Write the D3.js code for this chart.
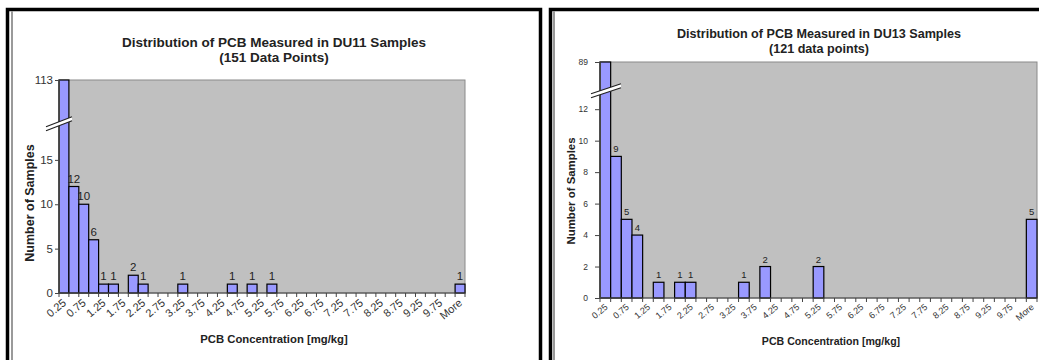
<!DOCTYPE html>
<html>
<head>
<meta charset="utf-8">
<script src="https://cdn.jsdelivr.net/npm/d3@7"></script>
<style>
  body { margin: 0; background: #fff; }
  svg { display: block; font-family: "Liberation Sans", Arial, sans-serif; }
</style>
</head>
<body>
<script>
// histogram bins (upper edge, mg/kg)
const bins = ["0.25","0.5","0.75","1","1.25","1.5","1.75","2","2.25","2.5","2.75","3","3.25","3.5","3.75","4",
  "4.25","4.5","4.75","5","5.25","5.5","5.75","6","6.25","6.5","6.75","7","7.25","7.5","7.75","8",
  "8.25","8.5","8.75","9","9.25","9.5","9.75","10","More"];

// labels printed under every other bin
const binLabels = ["0.25","","0.75","","1.25","","1.75","","2.25","","2.75","","3.25","","3.75","",
  "4.25","","4.75","","5.25","","5.75","","6.25","","6.75","","7.25","","7.75","",
  "8.25","","8.75","","9.25","","9.75","","More"];

// counts per bin
const du11 = [113,12,10,6,1,1,0,2,1,0,0,0,1,0,0,0,0,1,0,1,0,1,0,0,0,0,0,0,0,0,0,0,0,0,0,0,0,0,0,0,1];
const du13 = [89,9,5,4,0,1,0,1,1,0,0,0,0,1,0,2,0,0,0,0,2,0,0,0,0,0,0,0,0,0,0,0,0,0,0,0,0,0,0,0,5];

const du11Ticks = [0,5,10,15];
const du13Ticks = [0,2,4,6,8,10,12];

const width = 1039, height = 360;

let svg = d3.select("body").append("svg")
  .attr("width", width).attr("height", height);

// panel frames
svg.append("rect").attr("x", 7.5).attr("y", 9.5).attr("width", 533).attr("height", 380)
  .attr("fill", "none").attr("stroke", "#000").attr("stroke-width", 3.5);
svg.append("line").attr("x1", 12).attr("x2", 12).attr("y1", 11).attr("y2", 360)
  .attr("stroke", "#9a9a9a").attr("stroke-width", 2);
svg.append("rect").attr("x", 550.5).attr("y", 9.5).attr("width", 520).attr("height", 380)
  .attr("fill", "none").attr("stroke", "#000").attr("stroke-width", 3.5);
svg.append("line").attr("x1", 554).attr("x2", 554).attr("y1", 11).attr("y2", 360)
  .attr("stroke", "#9a9a9a").attr("stroke-width", 2);

function drawChart(c) {
  let g = svg.append("g");

  let x = d3.scaleBand().domain(bins).range([c.left, c.right]).padding(0);
  let y = d3.scaleLinear().domain([0, c.max]).range([c.bottom, c.top]);

  // plot area
  g.append("rect")
    .attr("x", c.left).attr("y", c.top)
    .attr("width", c.right - c.left).attr("height", c.bottom - c.top)
    .attr("fill", "#c0c0c0").attr("stroke", "#8a8a8a").attr("stroke-width", 1);

  let data = bins.map((b, i) => ({ bin: b, v: c.values[i] })).filter(d => d.v > 0);

  g.append("g").selectAll("rect")
    .data(data)
    .join("rect")
    .attr("x", d => x(d.bin))
    .attr("y", d => y(Math.min(d.v, c.max)))
    .attr("width", x.bandwidth())
    .attr("height", d => c.bottom - y(Math.min(d.v, c.max)))
    .attr("fill", "#9999ff")
    .attr("stroke", "#000")
    .attr("stroke-width", 1.2);

  // value labels (the clipped first bar gets its value on the axis instead)
  g.append("g").selectAll("text")
    .data(data.filter(d => d.v <= c.max))
    .join("text")
    .attr("x", d => x(d.bin) + x.bandwidth() / 2)
    .attr("y", d => y(d.v) - 4)
    .attr("text-anchor", "middle")
    .attr("font-size", c.labelSize)
    .attr("fill", "#222")
    .text(d => d.v);

  // y axis
  let ya = g.append("g")
    .attr("transform", `translate(${c.left},0)`)
    .call(d3.axisLeft(y).tickValues(c.ticks).tickSize(c.yTick).tickPadding(c.yPad));
  ya.select(".domain").attr("stroke", "#444");
  ya.selectAll(".tick line").attr("stroke", "#444");
  ya.selectAll("text").attr("font-size", c.tickSize).attr("fill", "#333").attr("font-family", null);

  g.append("text")
    .attr("x", c.left - c.yTick - c.yPad).attr("y", y(c.max)).attr("dy", "0.32em")
    .attr("text-anchor", "end").attr("font-size", c.tickSize).attr("fill", "#333")
    .text(c.values[0]);

  // axis break
  let bx = c.left + c.breakDx, by = y(c.breakAt), w = c.breakW, h = c.breakH;
  g.append("path")
    .attr("d", `M${bx - w},${by + h} L${bx + w},${by - h} L${bx + w},${by - h + 4} L${bx - w},${by + h + 4} Z`)
    .attr("fill", "#fff");
  g.append("path")
    .attr("d", `M${bx - w},${by + h} L${bx + w},${by - h} M${bx - w},${by + h + 4} L${bx + w},${by - h + 4}`)
    .attr("stroke", "#222").attr("stroke-width", 1.2).attr("fill", "none");

  // x axis
  g.append("line")
    .attr("x1", c.left).attr("x2", c.right).attr("y1", c.bottom).attr("y2", c.bottom)
    .attr("stroke", "#444");
  g.append("g").selectAll("line")
    .data(bins.map(b => x(b)).concat([c.right]))
    .join("line")
    .attr("x1", d => d).attr("x2", d => d)
    .attr("y1", c.bottom).attr("y2", c.bottom + 4)
    .attr("stroke", "#444");
  g.append("g").selectAll("text")
    .data(bins.map((b, i) => ({ bin: b, label: binLabels[i] })).filter(d => d.label))
    .join("text")
    .attr("transform", d => `translate(${x(d.bin) + x.bandwidth() / 2 + c.xOff},${c.bottom + c.yOff}) rotate(-40)`)
    .attr("text-anchor", "end")
    .attr("font-size", c.xTickSize).attr("fill", "#333")
    .text(d => d.label);

  // titles
  g.append("text")
    .attr("x", c.titleX).attr("y", c.titleY)
    .attr("text-anchor", "middle").attr("font-weight", "bold")
    .attr("font-size", c.titleSize).attr("fill", "#222")
    .text(c.title);
  g.append("text")
    .attr("x", c.titleX).attr("y", c.titleY + c.titleGap)
    .attr("text-anchor", "middle").attr("font-weight", "bold")
    .attr("font-size", c.titleSize).attr("fill", "#222")
    .text(c.subtitle);

  g.append("text")
    .attr("transform", `translate(${c.yTitleX},${c.yTitleY}) rotate(-90)`)
    .attr("text-anchor", "middle").attr("font-weight", "bold")
    .attr("font-size", c.yTitleSize).attr("fill", "#222")
    .text("Number of Samples");

  g.append("text")
    .attr("x", c.xTitleX).attr("y", c.xTitleY)
    .attr("text-anchor", "middle").attr("font-weight", "bold")
    .attr("font-size", c.xTitleSize).attr("fill", "#222")
    .text("PCB Concentration [mg/kg]");
}

drawChart({
  values: du11, ticks: du11Ticks, max: 24, breakAt: 19.3, breakDx: 0, breakW: 13, breakH: 5,
  left: 59, right: 465, top: 80, bottom: 293,
  title: "Distribution of PCB Measured in DU11 Samples", subtitle: "(151 Data Points)",
  titleX: 274, titleY: 47, titleGap: 15, titleSize: 13.5,
  yTitleX: 34, yTitleY: 203, yTitleSize: 12.5, xTitleX: 274, xTitleY: 343, xTitleSize: 11.3,
  tickSize: 11.5, yTick: 4, yPad: 2, xTickSize: 11, labelSize: 11.5, xOff: 3, yOff: 11
});

drawChart({
  values: du13, ticks: du13Ticks, max: 15, breakAt: 13.3, breakDx: 6, breakW: 15, breakH: 5,
  left: 600, right: 1037, top: 62, bottom: 298,
  title: "Distribution of PCB Measured in DU13 Samples", subtitle: "(121 data points)",
  titleX: 819, titleY: 38, titleGap: 15, titleSize: 12.6,
  yTitleX: 575, yTitleY: 191, yTitleSize: 11.4, xTitleX: 831, xTitleY: 345, xTitleSize: 10.6,
  tickSize: 8.5, yTick: 5, yPad: 7, xTickSize: 9, labelSize: 9.5, xOff: 3, yOff: 10
});
</script>
</body>
</html>
